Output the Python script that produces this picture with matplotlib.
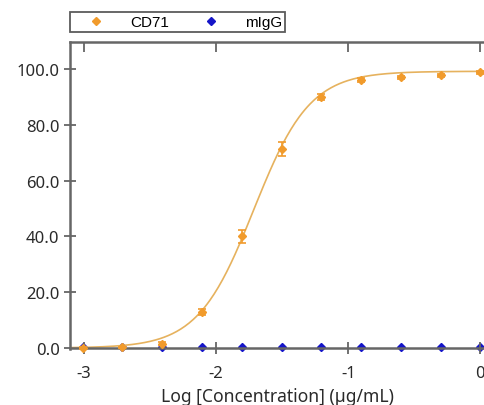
import matplotlib.pyplot as plt
from matplotlib.lines import Line2D
import numpy as np

# log10 concentration (2-fold dilutions from 1 ug/mL)
log_conc = [0.0, -0.301, -0.602, -0.903, -1.204, -1.505, -1.806, -2.107, -2.408, -2.709, -3.010]
cd71 = [98.8, 97.8, 97.0, 96.0, 90.0, 71.5, 40.0, 13.0, 1.5, 0.3, 0.0]
cd71_err = [0.5, 0.6, 0.6, 0.8, 1.0, 2.5, 2.2, 1.0, 0.5, 0.2, 0.2]
migg = [0.4, 0.3, 0.3, 0.3, 0.3, 0.3, 0.3, 0.3, 0.3, 0.2, 0.2]

# 4PL fit
fit_bottom = 0.0
fit_top = 99.2
fit_logec50 = -1.715
fit_hill = 2.05

yticks = [0, 20, 40, 60, 80, 100]
xticks = [-3, -2, -1, 0]
series_names = ['CD71', 'mIgG']

orange = '#F19B2C'
curve_c = '#E6B25E'
blue = '#1515C8'
spine_c = '#666666'

fig = plt.figure(figsize=(4.85, 4.06), dpi=100)
ax = fig.add_axes([70/485, 1-350.4/406, 415/485, (350.4-43)/406])

xs = np.linspace(-3.1, 0.05, 300)
ys = fit_bottom + (fit_top-fit_bottom)/(1+10**((fit_logec50-xs)*fit_hill))
ax.plot(xs, ys, color=curve_c, lw=1.2, zorder=2)

ax.errorbar(log_conc, cd71, yerr=cd71_err, fmt='D', color=orange, ms=4.5,
            elinewidth=1.2, capsize=3, capthick=1.2, zorder=3, clip_on=False)
ax.plot(log_conc, migg, 'D', color=blue, ms=4, zorder=1, clip_on=False)

ax.set_xlim(-3.106, 0.035)
ax.set_ylim(-0.5, 109.7)

for s in ['left', 'top', 'bottom']:
    ax.spines[s].set_color(spine_c)
    ax.spines[s].set_linewidth(1.8)
    ax.spines[s].set_zorder(2.5)
ax.spines['right'].set_visible(False)
ax.spines['bottom'].set_position(('data', 0))

ax.set_yticks(yticks)
ax.set_yticklabels(['%.1f' % v for v in yticks])
ax.set_xticks(xticks)
ax.set_xticklabels(['%d' % v for v in xticks])
ax.tick_params(axis='both', direction='inout', length=9, width=1.3, color=spine_c,
               labelsize=12, labelcolor='#2a2a2a', pad=3)
ax.tick_params(axis='x', top=True, pad=8)
for t in ax.get_xticklabels() + ax.get_yticklabels():
    t.set_family('Noto Sans')
# top ticks point inward only
for tk in ax.xaxis.get_major_ticks():
    tk.tick2line.set_marker(3)
    tk.tick2line.set_markersize(7)

ax.set_xlabel('Log [Concentration] (µg/mL)', family='Noto Sans', fontsize=12.6,
              color='#2a2a2a', labelpad=4)

handles = [Line2D([], [], ls='none', marker='D', ms=4.5, color=orange),
           Line2D([], [], ls='none', marker='D', ms=4.5, color=blue)]
leg = fig.legend(handles, series_names, loc='upper left', bbox_to_anchor=(70/485, 1-13/406), ncol=2,
                 frameon=True, fancybox=False, edgecolor='#333333',
                 prop={'family': 'Liberation Sans', 'size': 11},
                 handlelength=3.0, columnspacing=1.25, handletextpad=0.72,
                 borderpad=0.2, borderaxespad=0)
leg.get_frame().set_linewidth(1.3)

fig.savefig('out.png', dpi=100)
